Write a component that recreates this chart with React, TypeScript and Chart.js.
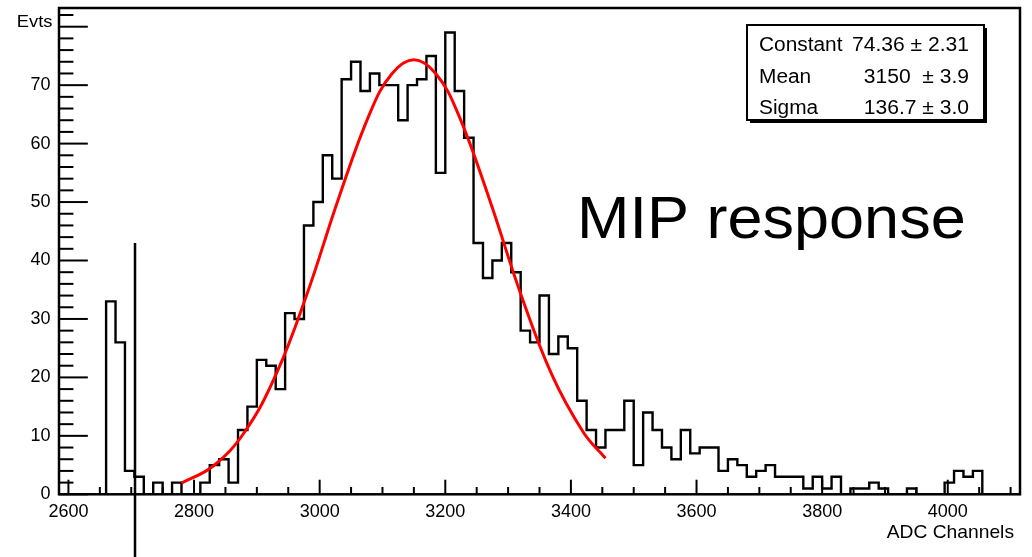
import React, { useEffect, useRef } from 'react';
import { Chart, registerables } from 'chart.js';

Chart.register(...registerables);

// ---- axis ranges ----
const X_MIN = 2585;
const X_MAX = 4115;
const Y_MIN = 0;
const Y_MAX = 83.2;

// ---- histogram binning ----
const BIN_START = 2585;
const BIN_WIDTH = 15;

// ---- histogram counts (Evts per bin) ----
const counts = [
  0, 0, 0, 0, 0, 33, 26, 4, 3, 0,
  2, 0, 2, 0, 0, 2, 5, 6, 2, 11,
  15, 23, 22, 18, 31, 30, 46, 50, 58, 54,
  71, 74, 69, 72, 70, 70, 64, 70, 71, 75,
  55, 79, 69, 61, 43, 37, 40, 43, 38, 28,
  26, 34, 24, 27, 25, 16, 11, 8, 11, 11,
  16, 5, 14, 11, 8, 6, 11, 7, 8, 8,
  4, 6, 5, 3, 4, 5, 3, 3, 3, 1,
  3, 1, 3, 0, 1, 1, 2, 1, 0, 0,
  1, 0, 0, 0, 2, 4, 3, 4, 0, 0,
  0, 0,
];

// ---- gaussian fit curve ----
const fitX = [2780, 2830, 2880, 2930, 2980, 3030, 3080, 3115, 3150, 3185, 3220, 3270, 3320, 3370, 3420, 3455];
const fitY = [1.91, 4.8, 10.57, 20.37, 34.32, 50.58, 65.22, 71.96, 74.36, 71.96, 65.22, 50.58, 34.32, 20.37, 10.57, 6.17];

// ---- ticks ----
const xTickValues = [2600, 2800, 3000, 3200, 3400, 3600, 3800, 4000];
const yTickValues = [0, 10, 20, 30, 40, 50, 60, 70];
const X_TICK_FIRST = 2600;
const X_TICK_LAST = 4100;
const X_MINOR_STEP = 50;
const X_MAJOR_STEP = 200;
const Y_MINOR_STEP = 2;
const Y_MAJOR_STEP = 10;
const Y_TICK_LAST = 82;

// ---- marker line ----
const THRESHOLD_X = 2706;
const THRESHOLD_TOP = 43;

// ---- texts ----
const xTitle = 'ADC Channels';
const yTitle = 'Evts';
const annotationText = 'MIP response';
const statNames = ['Constant', 'Mean', 'Sigma'];
const statValues = ['74.36 \u00b1 2.31', '3150  \u00b1 3.9', '136.7 \u00b1 3.0'];

const FONT = '"Liberation Sans", Arial, Helvetica, sans-serif';

function drawText(ctx: CanvasRenderingContext2D, text: string, x: number, y: number, size: number, align: CanvasTextAlign, sx: number) {
  ctx.save();
  ctx.translate(x, y);
  ctx.scale(sx, 1);
  ctx.font = `${size}px ${FONT}`;
  ctx.textAlign = align;
  ctx.textBaseline = 'alphabetic';
  ctx.fillStyle = '#000';
  ctx.fillText(text, 0, 0);
  ctx.restore();
}

const rootDecor = {
  id: 'rootDecor',
  afterDatasetsDraw(chart: any) {
    const { ctx, chartArea: a, scales } = chart;
    const xs = scales.x;
    const ys = scales.y;
    const w = a.right - a.left;
    const h = a.bottom - a.top;
    ctx.save();
    ctx.strokeStyle = '#000';
    ctx.lineCap = 'butt';

    // threshold marker line
    const tx = xs.getPixelForValue(THRESHOLD_X);
    ctx.lineWidth = 2.5;
    ctx.beginPath();
    ctx.moveTo(tx, ys.getPixelForValue(THRESHOLD_TOP));
    ctx.lineTo(tx, chart.height);
    ctx.stroke();

    // y ticks (inside frame)
    ctx.lineWidth = 2;
    for (let v = 0; v <= Y_TICK_LAST; v += Y_MINOR_STEP) {
      const py = ys.getPixelForValue(v);
      const len = v % Y_MAJOR_STEP === 0 ? 0.03 * w : 0.015 * w;
      ctx.beginPath();
      ctx.moveTo(a.left, py);
      ctx.lineTo(a.left + len, py);
      ctx.stroke();
    }
    // x ticks (inside frame)
    for (let v = X_TICK_FIRST; v <= X_TICK_LAST; v += X_MINOR_STEP) {
      const px = xs.getPixelForValue(v);
      const len = (v - X_TICK_FIRST) % X_MAJOR_STEP === 0 ? 0.03 * h : 0.015 * h;
      ctx.beginPath();
      ctx.moveTo(px, a.bottom);
      ctx.lineTo(px, a.bottom - len);
      ctx.stroke();
    }

    // frame
    ctx.lineWidth = 2.5;
    ctx.strokeRect(a.left, a.top, w, h);

    // stats box with shadow
    const bx = 747, by = 25, bw = 237, bh = 95;
    ctx.fillStyle = '#000';
    ctx.fillRect(bx + 3, by + 3, bw, bh);
    ctx.fillStyle = '#fff';
    ctx.fillRect(bx, by, bw, bh);
    ctx.lineWidth = 2;
    ctx.strokeRect(bx, by, bw, bh);
    const rowY = [50.5, 82.5, 114];
    statNames.forEach((n, i) => {
      drawText(ctx, n, 759, rowY[i], 19.5, 'left', 1.07);
      drawText(ctx, statValues[i], 969, rowY[i], 19.5, 'right', 1.08);
    });

    // annotation
    drawText(ctx, annotationText, 577, 238, 60, 'left', 1.05);
    // axis titles
    drawText(ctx, yTitle, 52.5, 27, 17, 'right', 1.08);
    drawText(ctx, xTitle, 1014, 538, 18.5, 'right', 1.04);
    ctx.restore();
  },
};

export default function App() {
  const canvasRef = useRef<HTMLCanvasElement | null>(null);

  useEffect(() => {
    document.body.style.margin = '0';
    const canvas = canvasRef.current;
    if (!canvas) return;

    const histPoints = counts.map((c, i) => ({ x: BIN_START + i * BIN_WIDTH, y: c }));
    histPoints.push({ x: BIN_START + counts.length * BIN_WIDTH, y: counts[counts.length - 1] });
    const fitPoints = fitX.map((x, i) => ({ x, y: fitY[i] }));

    const chart = new Chart(canvas, {
      type: 'line',
      data: {
        datasets: [
          {
            label: 'fit',
            data: fitPoints,
            borderColor: '#ff0000',
            borderWidth: 3,
            pointRadius: 0,
            tension: 0.4,
            fill: false,
          },
          {
            label: 'hist',
            data: histPoints,
            borderColor: '#000000',
            borderWidth: 2.4,
            pointRadius: 0,
            stepped: 'before',
            fill: false,
          },
        ],
      },
      plugins: [rootDecor],
      options: {
        responsive: false,
        animation: false,
        events: [],
        layout: { padding: { left: 0, top: 8, right: 12, bottom: 0 } },
        plugins: { legend: { display: false }, tooltip: { enabled: false } },
        scales: {
          x: {
            type: 'linear',
            min: X_MIN,
            max: X_MAX,
            grid: { display: false, drawTicks: false },
            border: { display: false },
            afterBuildTicks: (scale: any) => {
              scale.ticks = xTickValues.map((v) => ({ value: v }));
            },
            afterFit: (scale: any) => {
              scale.height = 62.7;
              scale.paddingLeft = 0;
              scale.paddingRight = 0;
            },
            ticks: {
              autoSkip: false,
              maxRotation: 0,
              padding: 7,
              color: '#000',
              font: { family: FONT, size: 18 },
              callback: (v: any) => String(v),
            },
          },
          y: {
            type: 'linear',
            min: Y_MIN,
            max: Y_MAX,
            grid: { display: false, drawTicks: false },
            border: { display: false },
            afterBuildTicks: (scale: any) => {
              scale.ticks = yTickValues.map((v) => ({ value: v }));
            },
            afterFit: (scale: any) => {
              scale.width = 59;
              scale.paddingTop = 0;
              scale.paddingBottom = 0;
            },
            ticks: {
              autoSkip: false,
              padding: 8.5,
              color: '#000',
              font: { family: FONT, size: 18 },
              callback: (v: any) => String(v),
            },
          },
        },
      },
    });

    return () => {
      chart.destroy();
    };
  }, []);

  return (
    <div style={{ position: 'fixed', left: 0, top: 0, width: 1032, height: 557, background: '#fff' }}>
      <canvas ref={canvasRef} width={1032} height={557} style={{ display: 'block', width: 1032, height: 557 }} />
    </div>
  );
}
